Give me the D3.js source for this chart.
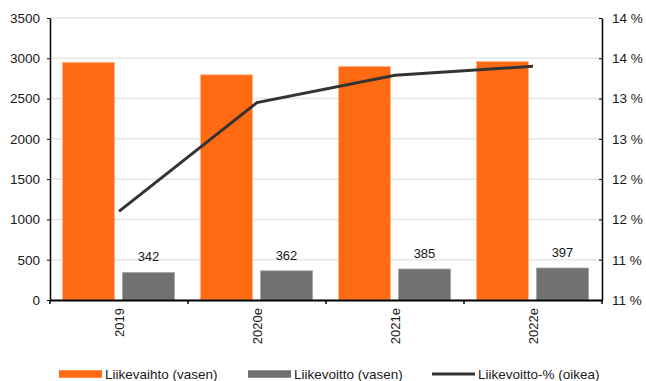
<!DOCTYPE html>
<html>
<head>
<meta charset="utf-8">
<script src="https://cdn.jsdelivr.net/npm/d3@7"></script>
<style>
  body { margin: 0; background: #fff; }
  text { font-family: "Liberation Sans", Arial, sans-serif; fill: #1a1a1a; }
</style>
</head>
<body>
<div id="vis"></div>
<script>
const years = ['2019', '2020e', '2021e', '2022e'];
const liikevaihto = [2950, 2795, 2900, 2960];
const liikevoitto = [342, 362, 385, 397];
const liikevoittoPct = [11.6, 12.95, 13.29, 13.4];
const leftTicks = [0, 500, 1000, 1500, 2000, 2500, 3000, 3500];
const rightTicks = [10.5, 11, 11.5, 12, 12.5, 13, 13.5, 14];
const legendLabels = ['Liikevaihto (vasen)', 'Liikevoitto (vasen)', 'Liikevoitto-% (oikea)'];

const orange = '#ff6a13';
const grey = '#717171';
const lineColor = '#333333';

const margin = {top: 18, right: 44, bottom: 81, left: 50};
const width = 646 - margin.left - margin.right;
const height = 381 - margin.top - margin.bottom;

const svg = d3.select('#vis').append('svg')
    .attr('width', 646)
    .attr('height', 381);

const g = svg.append('g')
    .attr('transform', `translate(${margin.left}, ${margin.top})`);

const x = d3.scaleBand()
    .domain(years)
    .range([0, width]);

const y = d3.scaleLinear()
    .domain([0, 3500])
    .range([height, 0]);

const y2 = d3.scaleLinear()
    .domain([10.5, 14])
    .range([height, 0]);

// gridlines
g.selectAll('.grid')
  .data(leftTicks.slice(1))
  .join('line')
    .attr('class', 'grid')
    .attr('x1', 0)
    .attr('x2', width)
    .attr('y1', d => y(d))
    .attr('y2', d => y(d))
    .attr('stroke', '#e6e6e6')
    .attr('stroke-width', 1.5);

const barW = 52;
const off1 = 12.5;
const off2 = off1 + barW + 8;

g.selectAll('.bar1')
  .data(liikevaihto)
  .join('rect')
    .attr('class', 'bar1')
    .attr('x', (d, i) => x(years[i]) + off1)
    .attr('width', barW)
    .attr('y', d => y(d))
    .attr('height', d => height - y(d))
    .attr('fill', orange)
    .attr('stroke', '#ffb68a')
    .attr('stroke-width', 0.8);

g.selectAll('.bar2')
  .data(liikevoitto)
  .join('rect')
    .attr('class', 'bar2')
    .attr('x', (d, i) => x(years[i]) + off2)
    .attr('width', barW)
    .attr('y', d => y(d))
    .attr('height', d => height - y(d))
    .attr('fill', grey)
    .attr('stroke', '#a5a5a5')
    .attr('stroke-width', 0.8);

g.selectAll('.lbl')
  .data(liikevoitto)
  .join('text')
    .attr('class', 'lbl')
    .attr('x', (d, i) => x(years[i]) + off2 + barW / 2)
    .attr('y', d => y(d) - 11)
    .attr('text-anchor', 'middle')
    .attr('font-size', 13)
    .text(d => d);

const line = d3.line()
    .x((d, i) => x(years[i]) + x.bandwidth() / 2)
    .y(d => y2(d));

g.append('path')
    .datum(liikevoittoPct)
    .attr('d', line)
    .attr('fill', 'none')
    .attr('stroke', lineColor)
    .attr('stroke-width', 3);

// left axis
const yAxis = g.append('g')
    .call(d3.axisLeft(y).tickValues(leftTicks).tickSize(3).tickSizeOuter(0).tickPadding(7)
      .tickFormat(d => d));
yAxis.select('.domain').attr('stroke', '#000').attr('stroke-width', 1.5);
yAxis.selectAll('.tick line').attr('stroke', '#000');
yAxis.selectAll('text').attr('font-size', 13.5).attr('fill', '#1a1a1a');

// right axis
const y2Axis = g.append('g')
    .attr('transform', `translate(${width}, 0)`)
    .call(d3.axisRight(y2).tickValues(rightTicks).tickSize(-3).tickSizeOuter(0).tickPadding(10)
      .tickFormat(d => Math.round(d) + ' %'));
y2Axis.select('.domain').attr('stroke', '#000').attr('stroke-width', 1.5);
y2Axis.selectAll('.tick line').attr('stroke', '#000');
y2Axis.selectAll('text').attr('font-size', 13.5).attr('fill', '#1a1a1a');

// bottom axis
const xAxis = g.append('g')
    .attr('transform', `translate(0, ${height})`)
    .call(d3.axisBottom(x).tickSize(0).tickSizeOuter(0));
xAxis.select('.domain').attr('stroke', '#000').attr('stroke-width', 2);
xAxis.selectAll('.tick text')
    .attr('font-size', 13)
    .attr('fill', '#1a1a1a')
    .attr('transform', 'rotate(-90)')
    .attr('text-anchor', 'end')
    .attr('x', -8)
    .attr('y', 0)
    .attr('dy', '0.35em');

g.append('g')
  .selectAll('line')
  .data(d3.range(years.length + 1))
  .join('line')
    .attr('x1', i => i * x.bandwidth())
    .attr('x2', i => i * x.bandwidth())
    .attr('y1', height)
    .attr('y2', height + 4)
    .attr('stroke', '#000')
    .attr('stroke-width', 1.5);

// legend
const legendX = [59, 248, 432];
const legend = svg.append('g');
legendLabels.forEach((label, i) => {
  const lg = legend.append('g').attr('transform', `translate(${legendX[i]}, 374)`);
  if (i < 2) {
    lg.append('rect')
        .attr('x', 0).attr('y', -3.75)
        .attr('width', 43).attr('height', 7.5)
        .attr('fill', i === 0 ? orange : grey);
  } else {
    lg.append('line')
        .attr('x1', 0).attr('x2', 43)
        .attr('stroke', lineColor)
        .attr('stroke-width', 3);
  }
  lg.append('text')
      .attr('x', 46)
      .attr('dy', '0.35em')
      .attr('font-size', 13.5)
      .text(label);
});
</script>
</body>
</html>
